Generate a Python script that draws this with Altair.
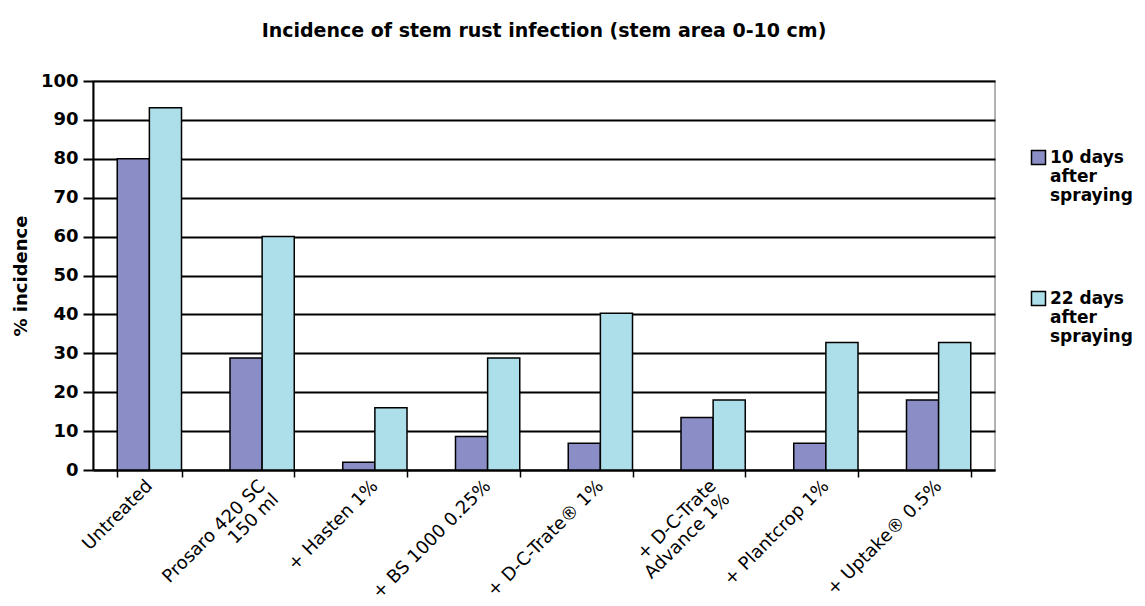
import altair as alt
import pandas as pd

categories = ["Untreated", "Prosaro 420 SC|150 ml", "+ Hasten 1%", "+ BS 1000 0.25%",
              "+ D-C-Trate® 1%", "+ D-C-Trate|Advance 1%", "+ Plantcrop 1%", "+ Uptake® 0.5%"]
series = ["10 days|after|spraying", "22 days|after|spraying"]
day10 = [80, 28.8, 2, 8.6, 6.9, 13.5, 6.9, 18]
day22 = [93.1, 60, 16, 28.8, 40.3, 18, 32.8, 32.8]
colors = ["#8B8EC6", "#ADDFEA"]

rows = []
for c, a, b in zip(categories, day10, day22):
    rows.append({"cat": c, "series": series[0], "value": a})
    rows.append({"cat": c, "series": series[1], "value": b})
df = pd.DataFrame(rows)

FONT = "DejaVu Sans"

chart = alt.Chart(df).mark_bar(stroke="black", strokeWidth=1.5).encode(
    x=alt.X("cat:N", sort=categories, title=None,
            scale=alt.Scale(paddingInner=0.43, paddingOuter=0.215),
            axis=alt.Axis(labelAngle=-45, labelExpr="split(datum.label, '|')",
                          labelFont=FONT, labelFontSize=18, labelColor="black",
                          labelAlign="right", labelBaseline="middle",
                          tickBand="extent", tickSize=7, tickColor="black", tickWidth=1.5,
                          domainColor="black", domainWidth=2, grid=False,
                          labelPadding=6, labelLineHeight=19)),
    xOffset=alt.XOffset("series:N", sort=series),
    y=alt.Y("value:Q", title="% incidence",
            scale=alt.Scale(domain=[0, 100], nice=False),
            axis=alt.Axis(values=list(range(0, 101, 10)), tickSize=10, tickColor="black",
                          tickWidth=2, domainColor="black", domainWidth=2,
                          gridColor="black", gridWidth=2, gridOpacity=1,
                          labelFont=FONT, labelFontSize=18, labelFontWeight="bold",
                          labelColor="black", labelPadding=5,
                          titleFont=FONT, titleFontSize=18, titleFontWeight="bold",
                          titleColor="black", titlePadding=10)),
    color=alt.Color("series:N", sort=series,
                    scale=alt.Scale(domain=series, range=colors),
                    legend=alt.Legend(title=None, orient="none", legendX=937, legendY=68,
                                      labelExpr="split(datum.label, '|')",
                                      labelFont=FONT, labelFontSize=17, labelFontWeight="bold",
                                      labelColor="black", symbolType="square", symbolSize=196,
                                      symbolStrokeColor="black", symbolStrokeWidth=1.5,
                                      rowPadding=84, labelOffset=3)),
).properties(
    width=902, height=389,
    title=alt.TitleParams("Incidence of stem rust infection (stem area 0-10 cm)",
                          font=FONT, fontSize=19, fontWeight="bold", color="black",
                          offset=31, anchor="middle"),
    autosize=alt.AutoSizeParams(type="none"),
    padding={"left": 93, "top": 81, "right": 150, "bottom": 136},
).configure_view(stroke="#999999", strokeWidth=1.5)

chart.save("out.html", embed_options={"renderer": "svg", "actions": False})
